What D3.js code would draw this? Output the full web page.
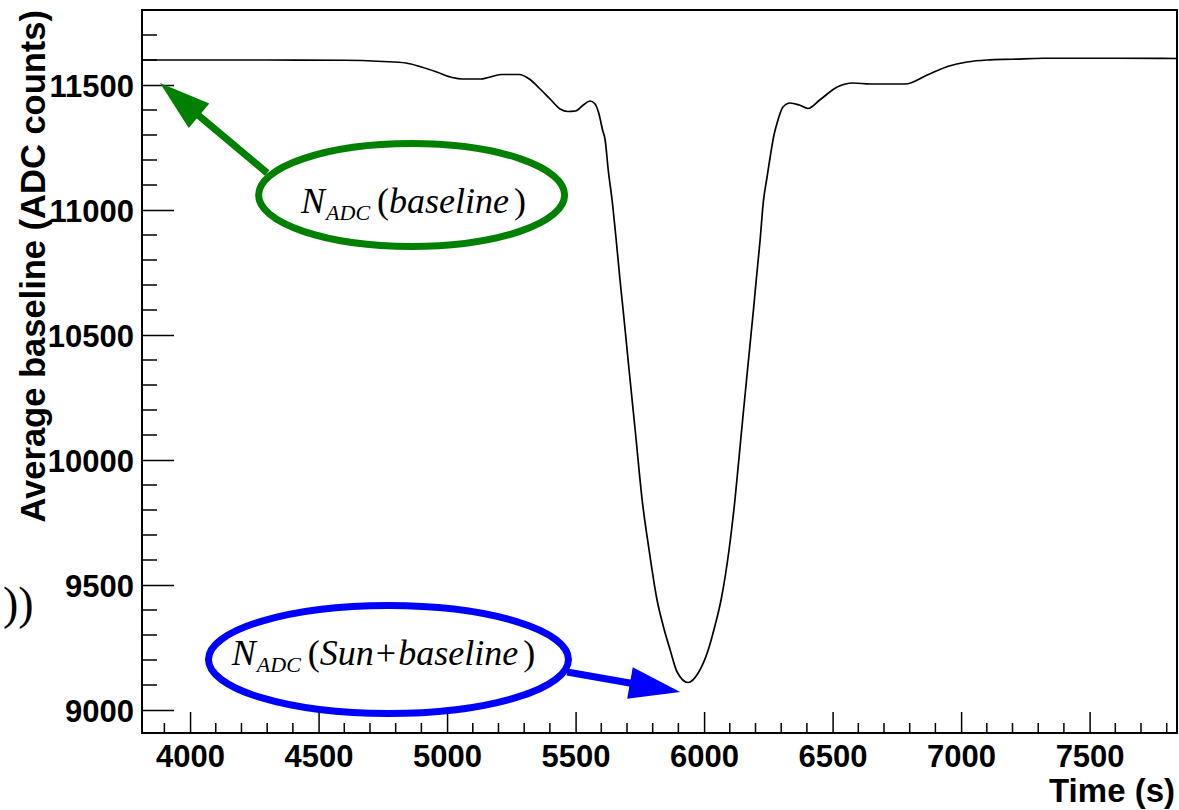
<!DOCTYPE html>
<html>
<head>
<meta charset="utf-8">
<script src="https://cdn.jsdelivr.net/npm/d3@7"></script>
<style>
  html, body { margin: 0; padding: 0; background: #fff; }
  svg { display: block; }
</style>
</head>
<body>
<svg id="chart" width="1179" height="810"></svg>
<script>
// Average baseline of the detector versus time (seconds)
const timeS = [3813, 4000, 4300, 4600, 4750, 4840, 4900, 4960, 5020, 5060, 5130, 5160,
  5210, 5280, 5320, 5360, 5400, 5440, 5470, 5500, 5530, 5556, 5575, 5590, 5605, 5615,
  5627, 5642, 5658, 5674, 5685, 5707, 5733, 5759, 5786, 5817, 5840, 5868, 5895, 5938, 5977, 6016,
  6043, 6066, 6097, 6120, 6145, 6170, 6192, 6204, 6218, 6230, 6245, 6257, 6272, 6284, 6307, 6335,
  6370, 6405, 6450, 6518, 6580, 6646, 6782, 6868, 6950, 7023, 7101, 7200, 7319, 7600, 7840];
const baselineADC = [11600, 11600, 11600, 11599, 11594, 11588, 11572, 11552, 11530, 11524, 11524, 11530,
  11542, 11542, 11524, 11486, 11445, 11404, 11394, 11396, 11420, 11436, 11425, 11388, 11320, 11280,
  11160, 11040, 10880, 10708, 10600, 10372, 10108, 9840, 9640, 9440, 9340, 9240, 9152, 9110, 9148, 9240,
  9340, 9440, 9640, 9840, 10108, 10372, 10600, 10732, 10880, 11028, 11132, 11212, 11300, 11348, 11412, 11428,
  11420, 11406, 11440, 11492, 11508, 11504, 11504, 11540, 11575, 11592, 11600, 11603, 11607, 11607, 11606];

const xDomain = [3813, 7840];
const yDomain = [8908, 11800];
const xMajorTicks = [4000, 4500, 5000, 5500, 6000, 6500, 7000, 7500];
const yMajorTicks = [9000, 9500, 10000, 10500, 11000, 11500];
const xMinorTicks = d3.range(3900, 7801, 100).filter(t => !xMajorTicks.includes(t));
const yMinorTicks = d3.range(9000, 11801, 100).filter(t => !yMajorTicks.includes(t));

const xTitle = "Time (s)";
const yTitle = "Average baseline (ADC counts)";

// Callout labels, anchored in data units
const callouts = [
  { main: "N", sub: "ADC", arg: ["baseline"], color: "#008000",
    center: [4862, 11060], tail: [4300, 11148], tip: [3883, 11508], textShift: [2, 18] },
  { main: "N", sub: "ADC", arg: ["Sun", "+", "baseline"], color: "#0000ff",
    center: [4772, 9202], tail: [5467, 9152], tip: [5907, 9072], textShift: [-5, 5.5] }
];

const svg = d3.select("#chart");
const frame = { left: 142, right: 1177, top: 10, bottom: 733 };

const x = d3.scaleLinear().domain(xDomain).range([frame.left, frame.right]);
const y = d3.scaleLinear().domain(yDomain).range([frame.bottom, frame.top]);

const sans = "'Liberation Sans', Arial, Helvetica, sans-serif";
const serif = "'Liberation Serif', 'Times New Roman', serif";

// Curve
const data = timeS.map((t, i) => [t, baselineADC[i]]);
svg.append("path")
  .datum(data)
  .attr("fill", "none")
  .attr("stroke", "#000")
  .attr("stroke-width", 1.7)
  .attr("d", d3.line().x(d => x(d[0])).y(d => y(d[1])).curve(d3.curveMonotoneX));

// Axes (ticks pointing into the frame)
const gx = svg.append("g").attr("transform", `translate(0,${frame.bottom})`)
  .call(d3.axisBottom(x).tickValues(xMajorTicks).tickSize(-21).tickSizeOuter(0)
    .tickPadding(13).tickFormat(d3.format("d")));
gx.append("g").selectAll("line").data(xMinorTicks).join("line")
  .attr("x1", d => x(d)).attr("x2", d => x(d)).attr("y1", 0).attr("y2", -10)
  .attr("stroke", "#000").attr("stroke-width", 1.5);

const gy = svg.append("g").attr("transform", `translate(${frame.left},0)`)
  .call(d3.axisLeft(y).tickValues(yMajorTicks).tickSize(-32).tickSizeOuter(0)
    .tickPadding(8).tickFormat(d3.format("d")));
gy.append("g").selectAll("line").data(yMinorTicks).join("line")
  .attr("y1", d => y(d)).attr("y2", d => y(d)).attr("x1", 0).attr("x2", 15)
  .attr("stroke", "#000").attr("stroke-width", 1.5);

[gx, gy].forEach(g => {
  g.select(".domain").remove();
  g.selectAll(".tick line").attr("stroke", "#000").attr("stroke-width", 1.5);
  g.selectAll(".tick text").attr("font-family", sans).attr("font-weight", "bold")
    .attr("font-size", 31).attr("fill", "#000");
});
gy.selectAll(".tick text").attr("dy", "0.38em");
gx.selectAll(".tick text").attr("dy", "0.68em");

// Frame
svg.append("rect")
  .attr("x", frame.left).attr("y", frame.top)
  .attr("width", frame.right - frame.left).attr("height", frame.bottom - frame.top)
  .attr("fill", "none").attr("stroke", "#000").attr("stroke-width", 2);

// Axis titles
svg.append("text")
  .attr("x", 1175).attr("y", 802)
  .attr("text-anchor", "end")
  .attr("font-family", sans).attr("font-weight", "bold").attr("font-size", 33)
  .text(xTitle);
svg.append("text")
  .attr("transform", "translate(45,10) rotate(-90)")
  .attr("text-anchor", "end")
  .attr("font-family", sans).attr("font-weight", "bold").attr("font-size", 34.5)
  .text(yTitle);

// Leftover closing brackets on the left margin
svg.append("text")
  .attr("x", 3).attr("y", 619)
  .attr("font-family", serif).attr("font-size", 46)
  .text("))");

// Callouts: ellipse, arrow and label
callouts.forEach(c => {
  const g = svg.append("g");
  const cx = x(c.center[0]), cy = y(c.center[1]);
  const tx = x(c.tail[0]), ty = y(c.tail[1]);
  const px = x(c.tip[0]), py = y(c.tip[1]);
  const isGreen = c.color === "#008000";
  const rx = isGreen ? 153 : 180, ry = isGreen ? 51.5 : 54;

  g.append("ellipse")
    .attr("cx", cx).attr("cy", cy).attr("rx", rx).attr("ry", ry)
    .attr("fill", "none").attr("stroke", c.color).attr("stroke-width", 7);

  const len = Math.hypot(px - tx, py - ty);
  const ux = (px - tx) / len, uy = (py - ty) / len;
  const headLen = 51, headHalf = 16;
  const bx = px - ux * headLen, by = py - uy * headLen;
  g.append("line")
    .attr("x1", tx).attr("y1", ty).attr("x2", bx + ux * 4).attr("y2", by + uy * 4)
    .attr("stroke", c.color).attr("stroke-width", 7);
  g.append("polygon")
    .attr("points", [[px, py], [bx - uy * headHalf, by + ux * headHalf], [bx + uy * headHalf, by - ux * headHalf]]
      .map(p => p.join(",")).join(" "))
    .attr("fill", c.color);

  const t = g.append("text")
    .attr("x", cx + c.textShift[0]).attr("y", cy + c.textShift[1])
    .attr("text-anchor", "middle")
    .attr("font-family", serif).attr("font-size", 36).attr("fill", "#000");
  t.append("tspan").attr("font-style", "italic").text(c.main);
  t.append("tspan").attr("font-style", "italic").attr("font-size", 22).attr("dy", 7).attr("dx", 1).text(c.sub);
  t.append("tspan").attr("dy", -7).attr("dx", 7).text("(");
  c.arg.forEach(a => {
    const ts = t.append("tspan").text(a);
    if (a === "+") ts.attr("dx", 2); else ts.attr("font-style", "italic");
    if (a === "baseline" && c.arg.length > 1) ts.attr("dx", 2);
  });
  t.append("tspan").attr("dx", 5).text(")");
});
</script>
</body>
</html>
